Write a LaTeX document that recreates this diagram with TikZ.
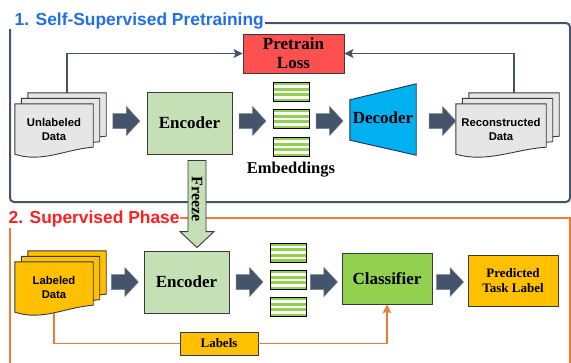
\documentclass[tikz,border=0pt]{standalone}
\usepackage{fontspec}
\setmainfont{Liberation Serif}
\setsansfont{Liberation Sans}
\usetikzlibrary{calc,arrows.meta}
\definecolor{slate}{HTML}{44546A}
\definecolor{encg}{HTML}{C5E0B4}
\definecolor{clsg}{HTML}{92D050}
\definecolor{gold}{HTML}{FFC000}
\definecolor{lossred}{HTML}{FF5050}
\definecolor{decblue}{HTML}{00B0F0}
\definecolor{docgray}{HTML}{E7E6E6}
\definecolor{orng}{HTML}{ED7D31}
\definecolor{ttlblue}{HTML}{1F6FE6}
\definecolor{ttlred}{HTML}{FF1F1F}
\definecolor{bord}{HTML}{3A3A3A}
\definecolor{decbord}{HTML}{1E3250}

\newcommand\docshape[2]{%
  \fill[#2, draw=bord, line width=0.9pt] (#1.north west) -- (#1.north east) -- ($(#1.south east)+(0,-7)$)
    .. controls ($(#1.south west)!0.65!(#1.south east)+(0,-5)$) and ($(#1.south west)!0.35!(#1.south east)+(0,9)$) .. (#1.south west) -- cycle;}

% name, x, y, width, fill, text
\newcommand\docstack[6]{%
  \node[docn, minimum width=#4] (#1C) at (#2+13,#3-11) {};
  \docshape{#1C}{#5}
  \node[docn, minimum width=#4] (#1B) at (#2+6.5,#3-5.5) {};
  \docshape{#1B}{#5}
  \node[docn, minimum width=#4] (#1A) at (#2,#3) {};
  \docshape{#1A}{#5}
  \node[doctext] (#1T) at (#1A) {#6};}

% coordinate name, from node, to node, row coordinate
\newcommand\fatarrow[4]{%
  \coordinate (#1) at ($(#2.east |- #4)!0.5!(#3.west |- #4)$);
  \path[fatarr] ($(#1)+(-13.5,-7.5)$) -- ++(13.5,0) -- ++(0,-7) -- ++(13.5,14.5) -- ++(-13.5,14.5) -- ++(0,-7) -- ++(-13.5,0) -- cycle;}

\tikzset{
  docn/.style={minimum height=50pt, inner sep=0pt, draw=none},
  doctext/.style={font=\sffamily\bfseries\fontsize{11.3}{14}\selectfont, align=center, inner sep=0pt},
  fatarr/.style={fill=slate, draw=slate!75!white, line width=0.5pt},
  boxn/.style={draw=bord, line width=0.9pt, inner sep=0pt, align=center, font=\bfseries\fontsize{17}{19}\selectfont},
  smallbox/.style={boxn, font=\bfseries\fontsize{13}{15.5}\selectfont},
  embbox/.style={draw=black, line width=0.8pt, minimum width=36pt, minimum height=19pt, inner sep=0pt,
    path picture={
      \foreach \i in {0,2,4,6}
        \fill[clsg] ($(path picture bounding box.north west)!{\i/7}!(path picture bounding box.south west)$)
          rectangle ($(path picture bounding box.north east)!{(\i+1)/7}!(path picture bounding box.south east)$);
    }},
  conn/.style={draw=slate, line width=1.5pt, -{Stealth[length=9pt,width=9pt,inset=2pt]}},
  oconn/.style={draw=orng, line width=1.5pt},
  frame/.style={line width=2pt, rounded corners=4pt},
}

\begin{document}
\begin{tikzpicture}[x=1pt,y=-1pt]
\useasboundingbox (0,0) rectangle (571,362);

% ---------- frames and titles ----------
\draw[frame, draw=slate] (265,23) -- (570,23) -- (570,202) -- (10,202) -- (10,29);
\node[anchor=base west, inner sep=0pt, text=ttlblue, font=\sffamily\bfseries\fontsize{17.4}{20}\selectfont] (t1) at (14.5,25) {1. Self-Supervised Pretraining};
\draw[frame, draw=orng, rounded corners=0pt] (180,218) -- (570,218) -- (570,364);
\draw[frame, draw=orng, rounded corners=0pt] (10,228) -- (10,364);
\node[anchor=base west, inner sep=0pt, text=ttlred, font=\sffamily\bfseries\fontsize{17.4}{20}\selectfont] (t2) at (8.5,223) {2. Supervised Phase};

% ---------- row coordinates ----------
\coordinate (rowA) at (0,121);
\coordinate (rowB) at (0,282);

% ---------- top row ----------
\node[boxn, fill=lossred, minimum width=101pt, minimum height=39pt] (loss) at (293.5,53.5) {Pretrain\\Loss};
\node[docn, minimum width=78pt] (unlC0) at (67,118) {};
\node[docn, minimum width=90pt] (recC0) at (514,118) {};
\draw[conn] (unlC0.north) |- (loss.west);
\draw[conn] (recC0.north) |- (loss.east);

\docstack{unl}{54}{129}{78pt}{docgray}{Unlabeled\\Data}
\node[boxn, fill=encg, minimum width=85pt, minimum height=62pt] (enc1) at (189.5,123) {Encoder};
\node[embbox] (emb1) at (291,92) {};
\node[embbox] (emb2) at (291,119) {};
\node[embbox] (emb3) at (291,147) {};
\node[inner sep=0pt, font=\bfseries\fontsize{16.5}{19}\selectfont] (embl) at (291,170) {Embeddings};

\node[minimum width=66pt, minimum height=71pt, inner sep=0pt] (dec) at (383,119.5) {};
\fill[decblue, draw=decbord, line width=0.9pt] ($(dec.north west)+(0,16)$) -- (dec.north east) -- (dec.south east) -- ($(dec.south west)+(0,-15)$) -- cycle;
\node[inner sep=0pt, font=\bfseries\fontsize{17}{19}\selectfont] (decl) at (383,118) {Decoder};

\docstack{rec}{501}{129}{90pt}{docgray}{Reconstructed\\Data}

\fatarrow{a1}{unlC}{enc1}{rowA}
\fatarrow{a2}{enc1}{emb2}{rowA}
\fatarrow{a3}{emb2}{dec}{rowA}
\fatarrow{a4}{dec}{recC}{rowA}

% ---------- bottom row ----------
\node[smallbox, fill=gold, minimum width=78pt, minimum height=23pt] (labels) at (219,343.5) {Labels};
\node[boxn, fill=clsg, minimum width=90pt, minimum height=51pt] (cls) at (387,278.5) {Classifier};
\node[docn, minimum width=78pt] (labA0) at (54,287) {};
\draw[oconn] (labA0.center) |- (labels.west);
\draw[oconn, -{Stealth[length=9pt,width=9pt,inset=2pt]}] (labels.east) -| (cls.south);

\docstack{lab}{54}{287}{78pt}{gold}{Labeled\\Data}
\node[boxn, fill=encg, minimum width=85pt, minimum height=62pt] (enc2) at (186.5,282) {Encoder};
\node[embbox] (emb4) at (288,252.5) {};
\node[embbox] (emb5) at (288,280) {};
\node[embbox] (emb6) at (288,307) {};
\node[smallbox, fill=gold, minimum width=90pt, minimum height=51pt] (pred) at (513,280.5) {Predicted\\Task Label};

\fatarrow{b1}{labC}{enc2}{rowB}
\fatarrow{b2}{enc2}{emb5}{rowB}
\fatarrow{b3}{emb5}{cls}{rowB}
\fatarrow{b4}{cls}{pred}{rowB}

% ---------- freeze arrow ----------
\coordinate (fzt) at ($(enc1.south)+(7.5,6)$);
\coordinate (fzb) at ($(enc2.north)+(10.5,-3)$);
\fill[encg, draw=bord, line width=0.9pt] ($(fzt)+(-9,0)$) -- ($(fzt)+(9,0)$) -- ($(fzb)+(9,-16)$) -- ($(fzb)+(17,-16)$) -- (fzb) -- ($(fzb)+(-17,-16)$) -- ($(fzb)+(-9,-16)$) -- cycle;
\node[rotate=-90, inner sep=0pt, font=\bfseries\fontsize{16}{18}\selectfont] (fzl) at (197,199) {Freeze};
\end{tikzpicture}
\end{document}
